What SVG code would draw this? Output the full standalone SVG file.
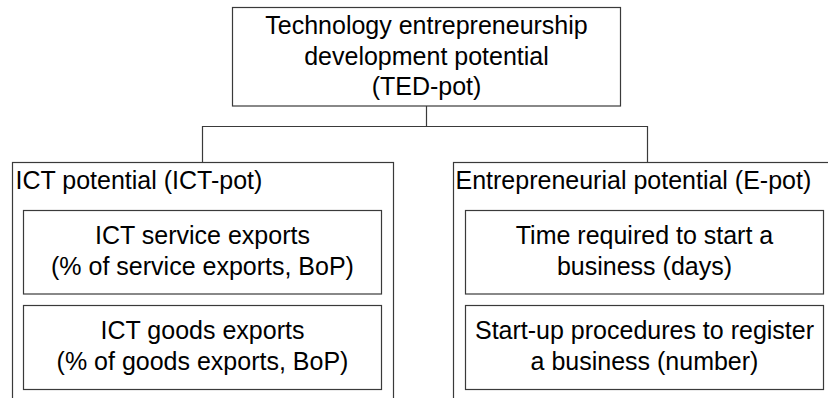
<svg xmlns="http://www.w3.org/2000/svg" width="828" height="398" viewBox="0 0 828 398">
  <style>
    .box { fill: #ffffff; stroke: #3a3a3a; stroke-width: 1.2; }
    .link { fill: none; stroke: #3a3a3a; stroke-width: 1.2; }
    text { font-family: "Liberation Sans", Arial, sans-serif; fill: #000000; font-size: 25px; }
    .mid { text-anchor: middle; }
  </style>
  <rect width="828" height="398" fill="#ffffff"/>

  <!-- connectors from the top node to the two groups -->
  <g id="connectors">
    <path class="link" d="M426.5 106 V126.5 M202.5 163 V126.5 H647.5 V163"/>
  </g>

  <g id="ted-pot">
    <rect class="box" x="232.5" y="7.5" width="388" height="98.5"/>
    <text class="mid" x="426.5" y="33.5">Technology entrepreneurship</text>
    <text class="mid" x="426.5" y="64.5">development potential</text>
    <text class="mid" x="426.5" y="95">(TED-pot)</text>
  </g>

  <g id="ict-pot">
    <rect class="box" x="12.5" y="162.5" width="381" height="260"/>
    <text x="15.5" y="189">ICT potential (ICT-pot)</text>
  </g>

  <g id="ict-service">
    <rect class="box" x="23.5" y="210.5" width="358" height="83.5"/>
    <text class="mid" x="202.5" y="244.3">ICT service exports</text>
    <text class="mid" x="202.5" y="275">(% of service exports, BoP)</text>
  </g>

  <g id="ict-goods">
    <rect class="box" x="23.5" y="305.5" width="358" height="84"/>
    <text class="mid" x="202.5" y="339.3">ICT goods exports</text>
    <text class="mid" x="202.5" y="370">(% of goods exports, BoP)</text>
  </g>

  <g id="e-pot">
    <rect class="box" x="453.5" y="162.5" width="400" height="260"/>
    <text x="455.5" y="189">Entrepreneurial potential (E-pot)</text>
  </g>

  <g id="start-time">
    <rect class="box" x="465.5" y="210.5" width="358" height="83.5"/>
    <text class="mid" x="644.5" y="244.3">Time required to start a</text>
    <text class="mid" x="644.5" y="274.5">business (days)</text>
  </g>

  <g id="start-procedures">
    <rect class="box" x="465.5" y="305.5" width="358" height="84"/>
    <text class="mid" x="644.5" y="339">Start-up procedures to register</text>
    <text class="mid" x="644.5" y="369.5">a business (number)</text>
  </g>
</svg>
